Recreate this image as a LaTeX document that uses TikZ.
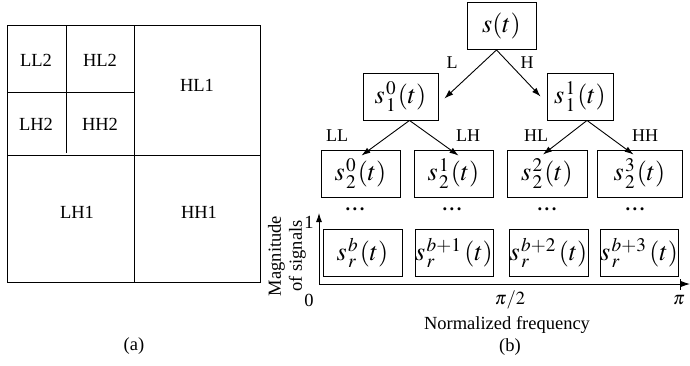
\documentclass[tikz,border=0pt]{standalone}
\usepackage{mathptmx}
\usepackage{fontspec}
\setmainfont{Liberation Serif}
\usetikzlibrary{arrows.meta}

\begin{document}
\begin{tikzpicture}[x=1pt, y=-1pt, line width=0.9pt,
  sigStyle/.style={rectangle, draw, minimum height=47pt, inner sep=0pt, font=\fontsize{26}{28}\selectfont},
  bandStyle/.style={font=\fontsize{18.5}{21}\selectfont},
  edgeStyle/.style={font=\fontsize{18}{20}\selectfont},
  arrowStyle/.style={-{Latex[length=9pt,width=6pt]}},
  scale=1, transform shape]
    \useasboundingbox (0,0) rectangle (690,365);
    % (a) subbands
    \draw (7,25) rectangle (260,282);
    \draw (134,25) -- (134,282);
    \draw (7,155) -- (260,155);
    \draw (66,25) -- (66,153);
    \draw (7,92) -- (134,92);
    \node[bandStyle] (band_LL2) at ( 36, 60) {LL2};
    \node[bandStyle] (band_HL2) at (100, 60) {HL2};
    \node[bandStyle] (band_HL1) at (197, 85) {HL1};
    \node[bandStyle] (band_LH2) at ( 36,124) {LH2};
    \node[bandStyle] (band_HH2) at (100,124) {HH2};
    \node[bandStyle] (band_LH1) at ( 77,212) {LH1};
    \node[bandStyle] (band_HH1) at (199,212) {HH1};
    \node[bandStyle] (cap_a)    at (134,346) {(a)};
    % (b) decomposition tree
    \node[sigStyle, minimum width=69pt] (root)   at (501.5, 26) {$s(t)$};
    \node[sigStyle, minimum width=75pt] (lvl1_0) at (400.5, 96.5) {${s\mkern1mu}_1^0\mkern1mu(t)$};
    \node[sigStyle, minimum width=66pt] (lvl1_1) at (580,   96.5) {${s\mkern1mu}_1^1\mkern1mu(t)$};
    \node[sigStyle, minimum width=79pt] (lvl2_0) at (360.5,173.5) {${s\mkern1mu}_2^0\mkern1mu(t)$};
    \node[sigStyle, minimum width=79pt] (lvl2_1) at (453.5,173.5) {${s\mkern1mu}_2^1\mkern1mu(t)$};
    \node[sigStyle, minimum width=80pt] (lvl2_2) at (547,  173.5) {${s\mkern1mu}_2^2\mkern1mu(t)$};
    \node[sigStyle, minimum width=85pt] (lvl2_3) at (639.5,173.5) {${s\mkern1mu}_2^3\mkern1mu(t)$};
    \node[bandStyle] (dots_0) at (355,209) {\textbf{.\hspace{2.5pt}.\hspace{2.5pt}.}};
    \node[bandStyle] (dots_1) at (452,209) {\textbf{.\hspace{2.5pt}.\hspace{2.5pt}.}};
    \node[bandStyle] (dots_2) at (547,209) {\textbf{.\hspace{2.5pt}.\hspace{2.5pt}.}};
    \node[bandStyle] (dots_3) at (635,209) {\textbf{.\hspace{2.5pt}.\hspace{2.5pt}.}};
    \node[sigStyle, minimum width=79pt] (lvlr_0) at (362.5,252.5) {${s\mkern1mu}_r^b\mkern1mu(t)$};
    \node[sigStyle, minimum width=78pt] (lvlr_1) at (454,  252.5) {${s\mkern1mu}_r^{b+1}\mkern2mu(t)$};
    \node[sigStyle, minimum width=79pt] (lvlr_2) at (548.5,252.5) {${s\mkern1mu}_r^{b+2}\mkern2mu(t)$};
    \node[sigStyle, minimum width=78pt] (lvlr_3) at (639,  252.5) {${s\mkern1mu}_r^{b+3}\mkern2mu(t)$};
    \draw[arrowStyle] ([xshift=-5pt]root.south) -- ([xshift=6pt, yshift=-2pt]lvl1_0.east);
    \draw[arrowStyle] ([xshift=-5pt]root.south) -- ([xshift=-6pt]lvl1_1.west);
    \node[edgeStyle] (edge_L) at (452,63) {L};
    \node[edgeStyle] (edge_H) at (527,63) {H};
    \draw[arrowStyle] ([xshift=9pt]lvl1_0.south) -- ([xshift=1pt, yshift=-6pt]lvl2_0.north);
    \draw[arrowStyle] ([xshift=9pt]lvl1_0.south) -- ([xshift=5pt, yshift=-6pt]lvl2_1.north);
    \draw[arrowStyle] ([xshift=7pt]lvl1_1.south) -- ([xshift=-4pt, yshift=-5pt]lvl2_2.north);
    \draw[arrowStyle] ([xshift=7pt]lvl1_1.south) -- ([xshift=-6pt, yshift=-5pt]lvl2_3.north);
    \node[edgeStyle] (edge_LL) at (337,136) {LL};
    \node[edgeStyle] (edge_LH) at (468,136) {LH};
    \node[edgeStyle] (edge_HL) at (536,136) {HL};
    \node[edgeStyle] (edge_HH) at (645,136) {HH};
    % (b) axes
    \coordinate (origin) at (319,284);
    \coordinate (y_end)  at (319,213);
    \coordinate (x_end)  at (690,284);
    \draw[arrowStyle] (origin) -- (y_end);
    \draw[arrowStyle] (origin) -- (x_end);
    \draw (680,279) -- (680,290);
    \node[bandStyle] (tick_1)    at (309,222) {1};
    \node[bandStyle] (tick_0)    at (309,300) {0};
    \node[bandStyle] (tick_half) at (510,300) {$\pi/2$};
    \node[bandStyle] (tick_pi)   at (679,300) {$\pi$};
    \node[bandStyle, rotate=90, align=center] (y_label) at (287,256) {Magnitude\\of signals};
    \node[bandStyle] (x_label) at (507,325) {Normalized frequency};
    \node[bandStyle] (cap_b)   at (510,347) {(b)};
\end{tikzpicture}
\end{document}
